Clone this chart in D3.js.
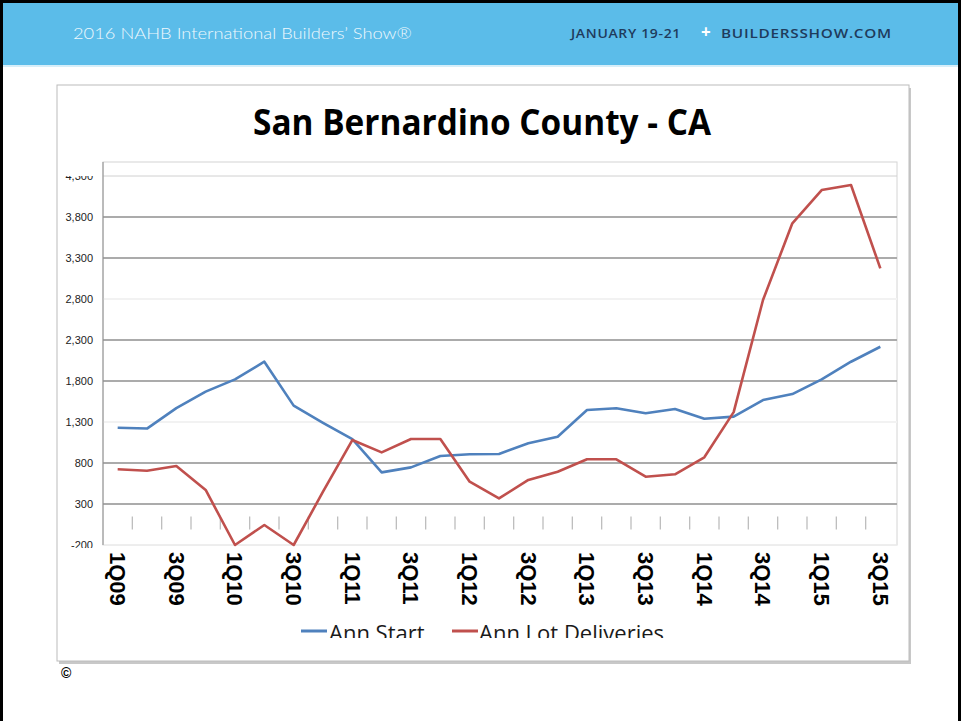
<!DOCTYPE html>
<html>
<head>
<meta charset="utf-8">
<script src="https://cdn.jsdelivr.net/npm/d3@7/dist/d3.min.js"></script>
<style>
  html, body { margin: 0; padding: 0; background: #fff; }
  svg { display: block; }
</style>
</head>
<body>
<svg id="slide" width="961" height="721"></svg>
<script>
// Quarterly categories, 1Q09 through 3Q15
const quarters = [
  "1Q09","2Q09","3Q09","4Q09",
  "1Q10","2Q10","3Q10","4Q10",
  "1Q11","2Q11","3Q11","4Q11",
  "1Q12","2Q12","3Q12","4Q12",
  "1Q13","2Q13","3Q13","4Q13",
  "1Q14","2Q14","3Q14","4Q14",
  "1Q15","2Q15","3Q15"
];

// Annualized housing starts
const annStart = [
  1230, 1220, 1470, 1670,
  1820, 2035, 1500, 1290,
  1090, 686, 747, 885,
  906, 910, 1040, 1121,
  1446, 1467, 1406, 1458,
  1340, 1365, 1568, 1641,
  1820, 2035, 2218
];

// Annualized lot deliveries
const annLotDeliveries = [
  723, 706, 763, 471,
  -200, 44, -200, 450,
  1080, 930, 1093, 1093,
  572, 369, 593, 694,
  845, 845, 633, 662,
  870, 1420, 2788, 3723,
  4129, 4190, 3174
];

// Value axis ticks and their labels
const yTicks = [4300, 3800, 3300, 2800, 2300, 1800, 1300, 800, 300, -200];
const yTickLabels = ["4,300","3,800","3,300","2,800","2,300","1,800","1,300","800","300","-200"];

// Every other quarter carries a label
const xLabelQuarters = quarters.filter((d, i) => i % 2 === 0);

const seriesNames = ["Ann Start", "Ann Lot Deliveries"];
const seriesColors = ["#4f81bd", "#c0504d"];

const svg = d3.select("#slide");

// ---- slide header band ----
svg.append("rect").attr("x", 0).attr("y", 0).attr("width", 961).attr("height", 65)
  .attr("fill", "#5bbce9");
svg.append("line").attr("x1", 0).attr("x2", 961).attr("y1", 66).attr("y2", 66)
  .attr("stroke", "#d6eef9").attr("stroke-width", 2);

svg.append("text")
  .attr("x", 73).attr("y", 39)
  .attr("font-family", "Lato, 'Open Sans', sans-serif")
  .attr("font-weight", 300)
  .attr("font-size", 15.5)
  .attr("fill", "#eef8fd")
  .attr("textLength", 339).attr("lengthAdjust", "spacingAndGlyphs")
  .text("2016 NAHB International Builders’ Show®");

const hdrRight = svg.append("text")
  .attr("y", 38)
  .attr("font-family", "'Open Sans', Lato, sans-serif")
  .attr("font-weight", 600)
  .attr("font-size", 12.5)
  .attr("letter-spacing", 0.6);
hdrRight.append("tspan").attr("x", 571).attr("fill", "#1f3b5c")
  .attr("textLength", 110).attr("lengthAdjust", "spacingAndGlyphs").text("JANUARY 19-21");
hdrRight.append("tspan").attr("x", 701).attr("fill", "#ffffff").attr("font-size", 17).attr("font-weight", 700).text("+");
hdrRight.append("tspan").attr("x", 721).attr("fill", "#1f3b5c")
  .attr("textLength", 171).attr("lengthAdjust", "spacingAndGlyphs").text("BUILDERSSHOW.COM");

// ---- chart frame with soft shadow ----
svg.append("rect").attr("x", 59).attr("y", 88).attr("width", 852).attr("height", 576)
  .attr("fill", "#c8c8c8");
svg.append("rect").attr("x", 57).attr("y", 85).attr("width", 852).attr("height", 576)
  .attr("fill", "#ffffff").attr("stroke", "#bcbcbc").attr("stroke-width", 1);

// clip regions: the title top, legend bottom and outermost value labels are trimmed
const defs = svg.append("defs");
defs.append("clipPath").attr("id", "titleClip")
  .append("rect").attr("x", 57).attr("y", 108).attr("width", 852).attr("height", 60);
defs.append("clipPath").attr("id", "legendClip")
  .append("rect").attr("x", 57).attr("y", 600).attr("width", 852).attr("height", 38);
defs.append("clipPath").attr("id", "yLabelClip")
  .append("rect").attr("x", 57).attr("y", 176).attr("width", 60).attr("height", 372);

// ---- title ----
svg.append("text")
  .attr("clip-path", "url(#titleClip)")
  .attr("x", 482).attr("y", 135)
  .attr("text-anchor", "middle")
  .attr("font-family", "'Open Sans', 'Liberation Sans', sans-serif")
  .attr("font-weight", 700)
  .attr("font-size", 36)
  .attr("fill", "#000")
  .attr("textLength", 458).attr("lengthAdjust", "spacingAndGlyphs")
  .text("San Bernardino County - CA");

// ---- scales ----
const plot = { left: 103, right: 897, top: 162, bottom: 545 };

const x = d3.scaleBand()
  .domain(quarters)
  .range([plot.left, plot.left + 792])
  .paddingInner(0).paddingOuter(0);

const y = d3.scaleLinear()
  .domain([-200, 4300])
  .range([545, 176]);

const xc = d => x(d) + x.bandwidth() / 2;

// plot area outline
svg.append("rect")
  .attr("x", plot.left).attr("y", plot.top)
  .attr("width", plot.right - plot.left).attr("height", plot.bottom - plot.top)
  .attr("fill", "none").attr("stroke", "#d4d4d4").attr("stroke-width", 1);

// ---- horizontal gridlines ----
const grid = svg.append("g");
grid.selectAll("line")
  .data(yTicks)
  .join("line")
  .attr("x1", plot.left).attr("x2", plot.right)
  .attr("y1", d => y(d)).attr("y2", d => y(d))
  .attr("stroke", d => (d === 4300 ? "#d0d0d0" : (d === 2800 || d === 1300 || d === -200) ? "#f2f2f2" : "#ababab"))
  .attr("stroke-width", d => (d === 4300 || d === -200) ? 1 : 2);

// value axis line
svg.append("line")
  .attr("x1", plot.left).attr("x2", plot.left)
  .attr("y1", plot.top).attr("y2", plot.bottom)
  .attr("stroke", "#8c8c8c").attr("stroke-width", 1);

// ---- y axis labels ----
const yAxis = d3.axisLeft(y)
  .tickValues(yTicks)
  .tickSize(0)
  .tickPadding(10)
  .tickFormat((d, i) => yTickLabels[i]);

const yAxisG = svg.append("g")
  .attr("clip-path", "url(#yLabelClip)")
  .append("g")
  .attr("transform", `translate(${plot.left},0)`)
  .call(yAxis);
yAxisG.select(".domain").remove();
yAxisG.selectAll("text")
  .attr("font-family", "'Liberation Sans Narrow', 'Liberation Sans', sans-serif")
  .attr("font-size", 11)
  .attr("fill", "#222");

// ---- category tick marks (crossing at zero) ----
const boundaries = quarters.slice(1).map(q => x(q));
svg.append("g").selectAll("line")
  .data(boundaries)
  .join("line")
  .attr("x1", d => d).attr("x2", d => d)
  .attr("y1", y(0) - 12).attr("y2", y(0) + 1)
  .attr("stroke", "#bdbdbd").attr("stroke-width", 1.3);

// ---- category labels (rotated, low position) ----
const xAxis = d3.axisBottom(x)
  .tickValues(xLabelQuarters)
  .tickSize(0)
  .tickPadding(0);
const xAxisG = svg.append("g")
  .attr("transform", `translate(0,${plot.bottom + 5})`)
  .call(xAxis);
xAxisG.select(".domain").remove();
xAxisG.selectAll("text")
  .attr("font-family", "'Liberation Sans', Arial, sans-serif")
  .attr("font-weight", 700)
  .attr("font-size", 22)
  .attr("fill", "#000")
  .attr("text-anchor", "start")
  .attr("dy", "0.35em")
  .attr("transform", "rotate(90)")
  .attr("x", 2).attr("y", 0);

// ---- series lines ----
const seriesData = [annStart, annLotDeliveries];
const lineGen = d3.line()
  .x((d, i) => xc(quarters[i]))
  .y(d => y(d));

svg.append("g").selectAll("path")
  .data(seriesData)
  .join("path")
  .attr("d", d => lineGen(d))
  .attr("fill", "none")
  .attr("stroke", (d, i) => seriesColors[i])
  .attr("stroke-width", 2.6)
  .attr("stroke-linejoin", "round");

// ---- legend ----
const legend = svg.append("g").attr("clip-path", "url(#legendClip)");
const legendItems = [
  { name: seriesNames[0], color: seriesColors[0], lx: 301, tx: 329 },
  { name: seriesNames[1], color: seriesColors[1], lx: 452, tx: 479 }
];
legend.selectAll("line")
  .data(legendItems)
  .join("line")
  .attr("x1", d => d.lx).attr("x2", d => d.lx + 26)
  .attr("y1", 631).attr("y2", 631)
  .attr("stroke", d => d.color).attr("stroke-width", 3);
legend.selectAll("text")
  .data(legendItems)
  .join("text")
  .attr("x", d => d.tx).attr("y", 641)
  .attr("font-family", "'Open Sans', 'Liberation Sans', sans-serif")
  .attr("font-size", 22)
  .attr("fill", "#1a1a1a")
  .text(d => d.name);

// ---- copyright mark ----
svg.append("text")
  .attr("x", 61).attr("y", 678)
  .attr("font-family", "'Liberation Sans', Arial, sans-serif")
  .attr("font-weight", 700)
  .attr("font-size", 14)
  .attr("fill", "#000")
  .text("©");

// ---- slide border ----
svg.append("rect").attr("x", 0).attr("y", 0).attr("width", 3).attr("height", 721).attr("fill", "#000");
svg.append("rect").attr("x", 0).attr("y", 0).attr("width", 961).attr("height", 3).attr("fill", "#000");
svg.append("rect").attr("x", 958).attr("y", 0).attr("width", 3).attr("height", 721).attr("fill", "#000");
</script>
</body>
</html>
